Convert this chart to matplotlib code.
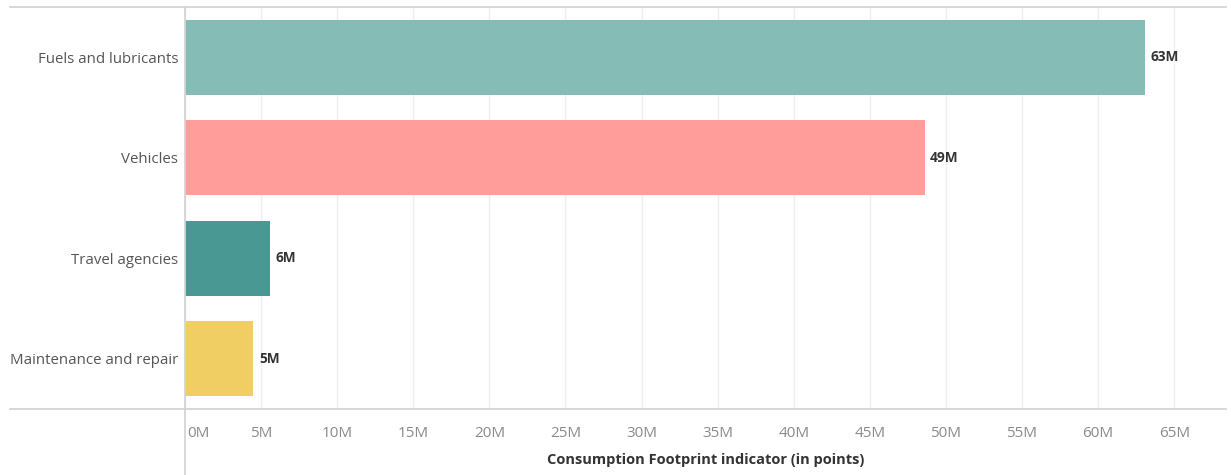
import matplotlib.pyplot as plt
from matplotlib.lines import Line2D
from matplotlib.ticker import FuncFormatter, MultipleLocator

categories = ['Fuels and lubricants', 'Vehicles', 'Travel agencies', 'Maintenance and repair']
values = [63.1, 48.6, 5.6, 4.5]  # millions of points
value_labels = ['63M', '49M', '6M', '5M']
colors = ['#86bcb6', '#ff9d9a', '#499894', '#f1ce63']

plt.rcParams['font.family'] = ['Open Sans', 'DejaVu Sans']

W, H = 1231, 475
fig = plt.figure(figsize=(W / 100, H / 100), dpi=100)
x0, x1, y_top, y_bot = 185, 1226, 7, 409
ax = fig.add_axes([x0 / W, 1 - y_bot / H, (x1 - x0) / W, (y_bot - y_top) / H])

ypos = list(range(len(categories)))
ax.barh(ypos, values, height=0.75, color=colors, zorder=2)
ax.set_ylim(len(categories) - 0.5, -0.5)
ax.set_xlim(0, 68.4)

for y, v, lab in zip(ypos, values, value_labels):
    ax.annotate(lab, (v, y), xytext=(4, 0), textcoords='offset points',
                va='center', ha='left', fontsize=9.8, fontweight='bold', color='#333333')

ax.set_yticks(ypos)
ax.set_yticklabels(categories, fontsize=10.8, color='#555555')
ax.xaxis.set_major_locator(MultipleLocator(5))
# zero label is drawn separately, left-aligned against the axis line
ax.xaxis.set_major_formatter(FuncFormatter(lambda v, p: '' if v == 0 else f'{v:.0f}M'))
ax.tick_params(axis='x', length=0, pad=12, labelsize=11, labelcolor='#8a8a8a')
ax.tick_params(axis='y', length=0, pad=5)
ax.annotate('0M', xy=(0, 0), xycoords=('data', 'axes fraction'), xytext=(1.5, -12),
            textcoords='offset points', ha='left', va='top', fontsize=11, color='#8a8a8a')

ax.grid(axis='x', color='#eeeeee', linewidth=1, zorder=0)
for s in ax.spines.values():
    s.set_visible(False)

ax.set_xlabel('Consumption Footprint indicator (in points)', fontsize=10.5,
              fontweight='bold', color='#333333', labelpad=9)

# frame lines drawn in figure pixels
def hline(y, xa, xb):
    fig.add_artist(Line2D([xa / W, xb / W], [1 - y / H, 1 - y / H],
                          color='#d4d4d4', linewidth=1.3))

hline(y_top, 10, x1)
hline(y_bot, 10, x1)
fig.add_artist(Line2D([x0 / W, x0 / W], [1 - y_top / H, 0], color='#d4d4d4', linewidth=1.3))

fig.savefig('out.png', dpi=100)
